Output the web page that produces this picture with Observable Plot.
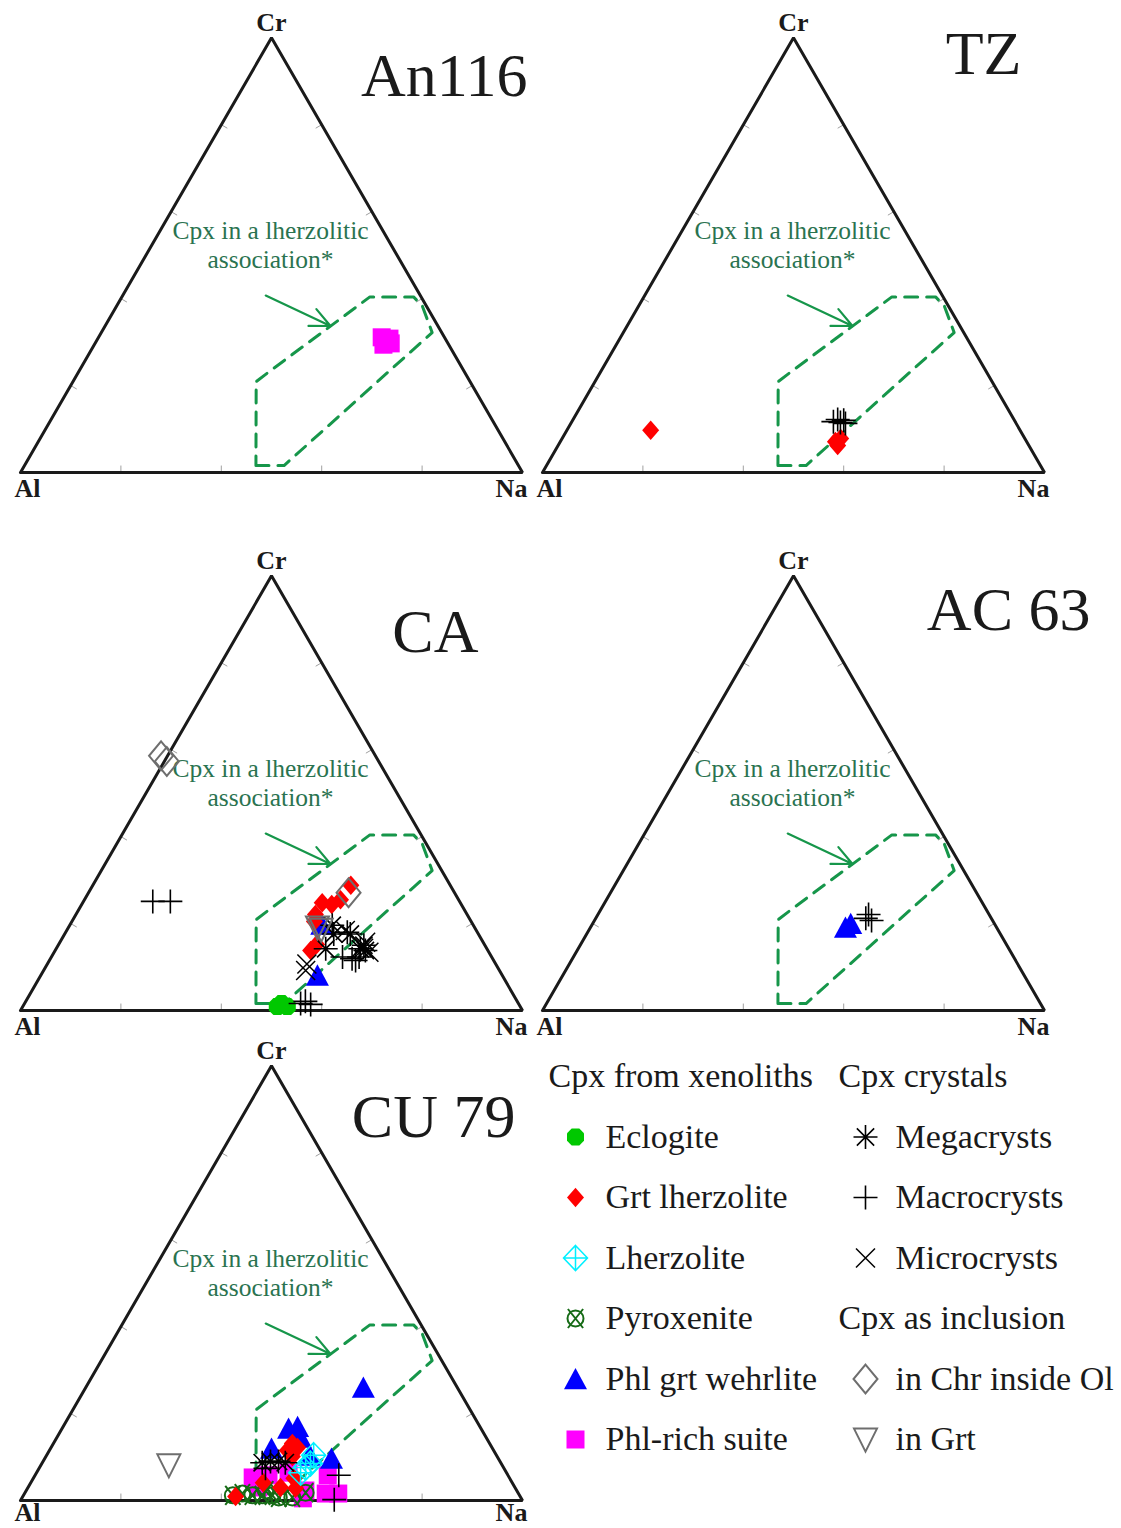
<!DOCTYPE html>
<html><head><meta charset="utf-8">
<script src="https://cdn.jsdelivr.net/npm/d3@7"></script>
<script src="https://cdn.jsdelivr.net/npm/@observablehq/plot@0.6"></script>
<style>
body{margin:0;background:#fff;}
#chart{position:relative;width:1121px;height:1528px;overflow:hidden;background:#fff;}
#chart > svg{position:absolute;}
</style></head><body><div id="chart"></div>
<script>
// ---------------- DATA (ternary Cr / Na in %, Al = 100 - Cr - Na) ----------------
const panelNames = ["An116", "TZ", "CA", "AC 63", "CU 79"];
const vertexLabels = ["Al", "Na", "Cr"];
const tickValues = [20, 40, 60, 80];
// lherzolitic field outline, [Cr, Na]
const fieldOutline = [[1.6,46.1],[1.6,51.7],[32.2,65.9],[38.3,60.9],[40.4,58.1],[40.4,49.4],[23.3,38.0],[20.9,36.5],[1.6,46.1]];
const fieldArrowFrom = [40.7, 28.5];
const fieldArrowTo = [33.7, 44.9];
const fieldLabelLines = ["Cpx in a lherzolitic", "association*"];
const fieldLabelAt = [52.6, 23.5];

const xenolithTypes = ["Eclogite", "Grt lherzolite", "Lherzolite", "Pyroxenite", "Phl grt wehrlite", "Phl-rich suite"];
const crystalTypes = ["Megacrysts", "Macrocrysts", "Microcrysts"];
const inclusionTypes = ["in Chr inside Ol", "in Grt"];
const legendHeaders = ["Cpx from xenoliths", "Cpx crystals", "Cpx as inclusion"];

// points: [type, Cr, Na]
const an116Data = [
  ["Phl-rich suite", 31.1, 56.4], ["Phl-rich suite", 30.8, 58.1],
  ["Phl-rich suite", 29.4, 57.6], ["Phl-rich suite", 29.7, 58.9]
];
const tzData = [
  ["Grt lherzolite", 9.7, 16.7], ["Grt lherzolite", 7.1, 54.8], ["Grt lherzolite", 7.8, 55.5], ["Grt lherzolite", 6.2, 55.7],
  ["Macrocrysts", 11.7, 52.1], ["Macrocrysts", 12.2, 52.7], ["Macrocrysts", 11.5, 53.6], ["Macrocrysts", 12.0, 54.0], ["Macrocrysts", 11.3, 54.7]
];
const caData = [
  ["Eclogite", 0.9, 50.7], ["Eclogite", 0.9, 52.7], ["Eclogite", 1.6, 51.2],
  ["Grt lherzolite", 28.8, 51.4], ["Grt lherzolite", 25.5, 51.0], ["Grt lherzolite", 24.8, 47.7], ["Grt lherzolite", 24.4, 49.8],
  ["Grt lherzolite", 22.1, 47.7], ["Grt lherzolite", 20.5, 48.3], ["Grt lherzolite", 15.2, 51.4], ["Grt lherzolite", 13.8, 50.9],
  ["Phl grt wehrlite", 19.8, 50.1], ["Phl grt wehrlite", 8.1, 55.1],
  ["Megacrysts", 19.6, 52.3], ["Megacrysts", 17.6, 53.6], ["Megacrysts", 14.2, 53.7], ["Megacrysts", 15.0, 60.9],
  ["Megacrysts", 14.2, 60.6], ["Megacrysts", 13.8, 61.8], ["Megacrysts", 17.6, 56.9],
  ["Macrocrysts", 25.1, 13.8], ["Macrocrysts", 25.1, 17.3], ["Macrocrysts", 1.6, 55.0], ["Macrocrysts", 2.1, 55.7],
  ["Macrocrysts", 1.4, 57.1], ["Macrocrysts", 18.0, 56.1], ["Macrocrysts", 12.3, 58.0], ["Macrocrysts", 11.9, 60.1],
  ["Macrocrysts", 11.5, 61.0], ["Macrocrysts", 12.3, 61.3],
  ["Microcrysts", 10.7, 51.7], ["Microcrysts", 9.2, 52.2], ["Microcrysts", 14.3, 61.2], ["Microcrysts", 13.4, 62.7],
  ["Microcrysts", 15.7, 60.9], ["Microcrysts", 18.4, 55.5],
  ["in Chr inside Ol", 58.6, -1.3], ["in Chr inside Ol", 57.3, 0.5], ["in Chr inside Ol", 27.1, 51.8],
  ["in Grt", 19.1, 49.6], ["in Grt", 18.6, 50.6]
];
const ac63Data = [
  ["Phl grt wehrlite", 19.1, 50.8], ["Phl grt wehrlite", 20.0, 51.4],
  ["Macrocrysts", 21.2, 53.8], ["Macrocrysts", 22.1, 53.9], ["Macrocrysts", 20.7, 55.2]
];
const cu79Data = [
  ["Pyroxenite", 1.2, 41.7], ["Pyroxenite", 1.6, 43.4], ["Pyroxenite", 1.2, 45.6], ["Pyroxenite", 1.2, 47.6],
  ["Pyroxenite", 1.2, 49.6], ["Pyroxenite", 0.7, 51.1], ["Pyroxenite", 0.7, 53.8], ["Pyroxenite", 1.8, 55.9], ["Pyroxenite", 2.3, 47.7],
  ["Phl-rich suite", 5.3, 43.6], ["Phl-rich suite", 5.8, 46.5], ["Phl-rich suite", 6.4, 50.2], ["Phl-rich suite", 5.8, 58.3],
  ["Phl-rich suite", 1.6, 60.0], ["Phl-rich suite", 1.6, 62.5], ["Phl-rich suite", 2.3, 55.6], ["Phl-rich suite", 3.0, 45.9],
  ["Phl-rich suite", 0.5, 56.0],
  ["Megacrysts", 8.7, 43.8], ["Megacrysts", 9.0, 45.3], ["Megacrysts", 9.0, 46.9], ["Megacrysts", 8.7, 48.4],
  ["Macrocrysts", 7.4, 45.1], ["Macrocrysts", 5.8, 60.5], ["Macrocrysts", 0.2, 62.4],
  ["Phl grt wehrlite", 26.0, 55.3], ["Phl grt wehrlite", 16.6, 45.1], ["Phl grt wehrlite", 17.0, 46.7], ["Phl grt wehrlite", 14.5, 48.5],
  ["Phl grt wehrlite", 12.0, 44.0], ["Phl grt wehrlite", 10.4, 52.4], ["Phl grt wehrlite", 9.7, 57.1],
  ["Grt lherzolite", 13.1, 47.6], ["Grt lherzolite", 11.5, 47.4], ["Grt lherzolite", 12.2, 49.1], ["Grt lherzolite", 10.1, 49.1],
  ["Grt lherzolite", 4.1, 46.3], ["Grt lherzolite", 3.0, 50.3], ["Grt lherzolite", 5.1, 51.9], ["Grt lherzolite", 2.8, 53.4],
  ["Grt lherzolite", 0.9, 42.4],
  ["Lherzolite", 7.6, 53.0], ["Lherzolite", 8.5, 53.5], ["Lherzolite", 6.4, 52.6], ["Lherzolite", 10.4, 53.2],
  ["in Grt", 8.1, 25.5]
];
const panelData = [an116Data, tzData, caData, ac63Data, cu79Data];

// ---------------- STYLE / LAYOUT ----------------
const serif = "'Liberation Serif','Times New Roman',serif";
const ink = "#1a1a1a";
const fieldGreen = "#16964a";
const labelGreen = "#2a7350";
const grey = "#6e6e6e";
const R = s => Math.sqrt(s / Math.PI);
const symbols = {
  octagon: {draw(c, s) { const r = R(s), k = r * 0.45; c.moveTo(-k, -r); c.lineTo(k, -r); c.lineTo(r, -k); c.lineTo(r, k); c.lineTo(k, r); c.lineTo(-k, r); c.lineTo(-r, k); c.lineTo(-r, -k); c.closePath(); }},
  diamond: {draw(c, s) { const r = R(s), h = r * 1.15; c.moveTo(0, -h); c.lineTo(r, 0); c.lineTo(0, h); c.lineTo(-r, 0); c.closePath(); }},
  diamondCross: {draw(c, s) { const r = R(s), h = r * 1.05; c.moveTo(0, -h); c.lineTo(r, 0); c.lineTo(0, h); c.lineTo(-r, 0); c.closePath(); c.moveTo(0, -h); c.lineTo(0, h); c.moveTo(-r, 0); c.lineTo(r, 0); }},
  crossedCircle: {draw(c, s) { const r = R(s), e = r * 0.95; c.moveTo(r, 0); c.arc(0, 0, r, 0, 2 * Math.PI); c.moveTo(-e, -e * 1.25); c.lineTo(e, e * 1.25); c.moveTo(e, -e * 1.25); c.lineTo(-e, e * 1.25); }},
  triangle: {draw(c, s) { const r = R(s); c.moveTo(0, -r * 0.95); c.lineTo(r, r * 0.9); c.lineTo(-r, r * 0.9); c.closePath(); }},
  square: {draw(c, s) { const r = R(s); c.moveTo(-r, -r); c.lineTo(r, -r); c.lineTo(r, r); c.lineTo(-r, r); c.closePath(); }},
  asterisk: {draw(c, s) { const r = R(s), d = r * 0.72; c.moveTo(0, -r); c.lineTo(0, r); c.moveTo(-r, 0); c.lineTo(r, 0); c.moveTo(-d, -d); c.lineTo(d, d); c.moveTo(d, -d); c.lineTo(-d, d); }},
  plus: {draw(c, s) { const r = R(s); c.moveTo(0, -r); c.lineTo(0, r); c.moveTo(-r, 0); c.lineTo(r, 0); }},
  times: {draw(c, s) { const r = R(s); c.moveTo(-r, -r); c.lineTo(r, r); c.moveTo(r, -r); c.lineTo(-r, r); }},
  openDiamond: {draw(c, s) { const r = R(s), h = r * 1.2; c.moveTo(0, -h); c.lineTo(r, 0); c.lineTo(0, h); c.lineTo(-r, 0); c.closePath(); }},
  invTriangle: {draw(c, s) { const r = R(s); c.moveTo(0, r * 1.05); c.lineTo(r, -r * 0.95); c.lineTo(-r, -r * 0.95); c.closePath(); }}
};
const typeStyle = {
  "Eclogite":         {symbol: symbols.octagon, fill: "#00c800", stroke: "none", r: 8.5, sw: 0},
  "Grt lherzolite":   {symbol: symbols.diamond, fill: "#ff0000", stroke: "none", r: 8.5, sw: 0},
  "Lherzolite":       {symbol: symbols.diamondCross, fill: "none", stroke: "#00f0ff", r: 12, sw: 1.5},
  "Pyroxenite":       {symbol: symbols.crossedCircle, fill: "none", stroke: "#166b16", r: 8, sw: 2},
  "Phl grt wehrlite": {symbol: symbols.triangle, fill: "#0000ff", stroke: "none", r: 11.5, sw: 0},
  "Phl-rich suite":   {symbol: symbols.square, fill: "#ff00ff", stroke: "none", r: 9, sw: 0},
  "Megacrysts":       {symbol: symbols.asterisk, fill: "none", stroke: "#000", r: 12, sw: 1.6},
  "Macrocrysts":      {symbol: symbols.plus, fill: "none", stroke: "#000", r: 12, sw: 1.6},
  "Microcrysts":      {symbol: symbols.times, fill: "none", stroke: "#000", r: 9.5, sw: 1.5},
  "in Chr inside Ol": {symbol: symbols.openDiamond, fill: "none", stroke: grey, r: 12, sw: 2},
  "in Grt":           {symbol: symbols.invTriangle, fill: "none", stroke: grey, r: 11.5, sw: 2}
};
const drawOrder = ["Phl-rich suite", "Pyroxenite", "Eclogite", "Phl grt wehrlite", "Grt lherzolite", "Lherzolite",
  "Megacrysts", "Macrocrysts", "Microcrysts", "in Chr inside Ol", "in Grt"];
// panel placement on the page, title anchor (right edge, vertical centre), bottom-label offset
const layout = [
  {left: 0,   top: 0,    title: [527, 76], base: 16},
  {left: 522, top: 0,    title: [499, 54], base: 16},
  {left: 0,   top: 538,  title: [478, 94], base: 16},
  {left: 522, top: 538,  title: [568, 72], base: 16},
  {left: 0,   top: 1028, title: [515, 89], base: 12}
];

// ---------------- HELPERS ----------------
const tern = (cr, na) => ({x: na / 100 + cr / 200, y: cr / 100});
const vertexComp = {Al: [0, 0], Na: [0, 100], Cr: [100, 0]};

function typeMarks(rows, dx = 0) {
  return drawOrder.map(t => {
    const st = typeStyle[t];
    return Plot.dot(rows.filter(d => d.type === t), {
      x: "x", y: "y", dx, symbol: st.symbol, r: st.r, fill: st.fill, stroke: st.stroke, strokeWidth: st.sw
    });
  });
}

function panel(i) {
  const lay = layout[i];
  const vertexOffset = {Al: [7, lay.base], Na: [-11, lay.base], Cr: [0, -15]};
  const tri = ["Al", "Na", "Cr", "Al"].map(v => tern(...vertexComp[v]));
  const ticks = [
    ...tickValues.map(v => [tern(0, v), tern(1.6, v - 0.8)]),
    ...tickValues.map(v => [tern(v, 0), tern(v - 0.8, 1.6)]),
    ...tickValues.map(v => [tern(v, 100 - v), tern(v - 0.8, 100 - v - 0.8)])
  ].map(([a, b]) => ({x1: a.x, y1: a.y, x2: b.x, y2: b.y}));
  const field = fieldOutline.map(([cr, na]) => tern(cr, na));
  const a1 = tern(...fieldArrowFrom), a2 = tern(...fieldArrowTo);
  const lbl = tern(...fieldLabelAt);
  const rows = panelData[i].map(([type, cr, na]) => ({type, ...tern(cr, na)}));

  const marks = [
    Plot.link(ticks, {x1: "x1", y1: "y1", x2: "x2", y2: "y2", stroke: "#a0a0a0", strokeWidth: 1}),
    Plot.line(tri, {x: "x", y: "y", stroke: ink, strokeWidth: 3, strokeLinejoin: "miter"}),
    Plot.line(field, {x: "x", y: "y", stroke: fieldGreen, strokeWidth: 3, strokeDasharray: "13 9"}),
    Plot.arrow([{x1: a1.x, y1: a1.y, x2: a2.x, y2: a2.y}], {x1: "x1", y1: "y1", x2: "x2", y2: "y2",
      stroke: fieldGreen, strokeWidth: 2.2, headLength: 15, headAngle: 50}),
    Plot.text([{text: fieldLabelLines.join("\n"), ...lbl}], {x: "x", y: "y", text: "text",
      fontSize: 25.5, fontFamily: serif, fill: labelGreen, lineHeight: 1.14, textAnchor: "middle", lineAnchor: "middle"}),
    ...typeMarks(rows),
    Plot.text([panelNames[i]], {text: d => d, frameAnchor: "top-left", dx: lay.title[0], dy: lay.title[1],
      textAnchor: "end", lineAnchor: "middle", fontSize: 62, fontFamily: serif, fill: ink}),
    ...vertexLabels.map(v => {
      const p = tern(...vertexComp[v]);
      return Plot.text([{text: v, ...p}], {x: "x", y: "y", text: "text", dx: vertexOffset[v][0], dy: vertexOffset[v][1],
        fontSize: 26, fontWeight: "bold", fontFamily: serif, fill: ink, lineAnchor: "middle"});
    })
  ];
  const svg = Plot.plot({
    width: i % 2 ? 599 : 540, height: 500, margin: 0,
    x: {domain: [0, 1], range: [20, 522], axis: null},
    y: {domain: [0, 1], range: [472, 472 - 434.7], axis: null},
    style: {background: "transparent", overflow: "visible"},
    marks
  });
  svg.style.left = lay.left + "px";
  svg.style.top = lay.top + "px";
  return svg;
}

function legend() {
  const items = [
    ...xenolithTypes.map((t, i) => ({col: 0, row: i + 1, type: t})),
    ...crystalTypes.map((t, i) => ({col: 1, row: i + 1, type: t})),
    ...inclusionTypes.map((t, i) => ({col: 1, row: i + 5, type: t}))
  ].map(d => ({...d, x: d.col, y: d.row}));
  const headers = [
    {x: 0, y: 0, text: legendHeaders[0]},
    {x: 1, y: 0, text: legendHeaders[1]},
    {x: 1, y: 4, text: legendHeaders[2]}
  ];
  const svg = Plot.plot({
    width: 581, height: 488, margin: 0,
    x: {domain: [0, 1], range: [8, 298], axis: null},
    y: {domain: [0, 6], range: [36, 399], axis: null},
    style: {background: "transparent", overflow: "visible"},
    marks: [
      Plot.text(headers, {x: "x", y: "y", text: "text", textAnchor: "start", lineAnchor: "middle",
        fontSize: 34, fontFamily: serif, fill: ink}),
      ...typeMarks(items, 27),
      Plot.text(items, {x: "x", y: "y", text: "type", dx: 57, textAnchor: "start", lineAnchor: "middle",
        fontSize: 34, fontFamily: serif, fill: ink})
    ]
  });
  svg.style.left = "540px";
  svg.style.top = "1040px";
  return svg;
}

const chart = document.getElementById("chart");
panelNames.forEach((_, i) => chart.appendChild(panel(i)));
chart.appendChild(legend());
</script></body></html>
